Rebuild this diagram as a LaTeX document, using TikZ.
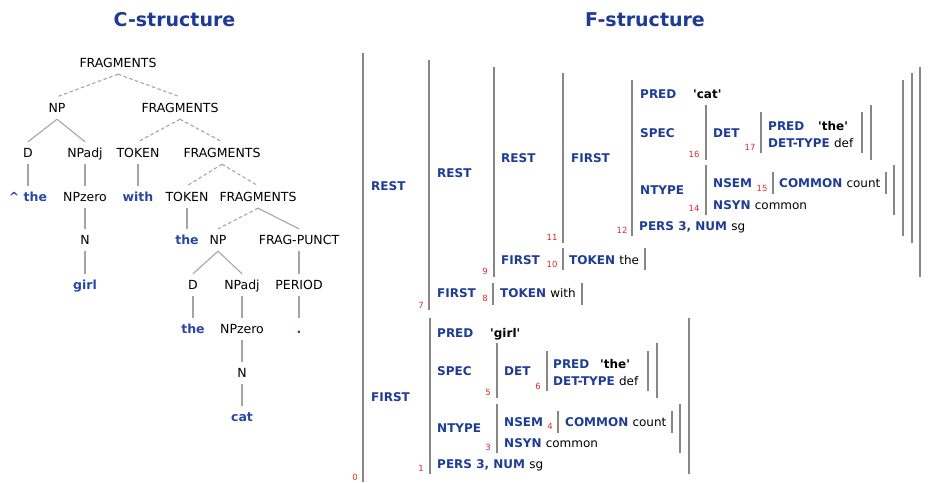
\documentclass[tikz,border=0pt]{standalone}
\usepackage{fontspec}
\setmainfont{DejaVu Sans}
\definecolor{titleblue}{RGB}{28,58,150}
\definecolor{fsblue}{RGB}{30,60,150}
\definecolor{wordblue}{RGB}{40,72,165}
\definecolor{linegray}{RGB}{165,165,165}
\definecolor{bargray}{RGB}{135,135,135}
\definecolor{numred}{RGB}{230,40,40}
\begin{document}
\begin{tikzpicture}[x=1pt,y=-1pt,
  title/.style={font=\fontsize{19}{22}\selectfont\bfseries, text=titleblue, inner sep=0pt},
  tn/.style={font=\fontsize{12.5}{14}\selectfont, inner sep=0pt, minimum height=22pt, text height=9.1pt, text depth=0pt},
  tw/.style={tn, font=\fontsize{12.5}{14}\selectfont\bfseries, text=wordblue},
  sol/.style={draw=linegray, line width=1.1pt},
  dsh/.style={draw=linegray, line width=1.1pt, dash pattern=on 3.5pt off 2.5pt},
  fl/.style={font=\fontsize{12}{14}\selectfont\bfseries, text=fsblue, anchor=west, inner sep=0pt, text height=8.7pt, text depth=0pt},
  fv/.style={font=\fontsize{12}{14}\selectfont\bfseries, text=black, anchor=west, inner sep=0pt, text height=8.7pt, text depth=0pt},
  nm/.style={font=\fontsize{8.5}{9}\selectfont, text=numred, inner sep=0pt},
  fbar/.style={draw=bargray, line width=1.8pt}
]
\useasboundingbox (0,0) rectangle (928,482);
\newcommand{\vl}[1]{\textcolor{black}{\mdseries #1}}
\newcommand{\sq}{\textquotesingle}

% titles
\node[title] (ct) at (174.5,20) {C-structure};
\node[title] (ft) at (645,20) {F-structure};

% ---------------- C-structure tree ----------------
\node[tn] (r)   at (118,63)  {FRAGMENTS};
\node[tn] (np1) at (57,108)  {NP};
\node[tn] (f2)  at (180,108) {FRAGMENTS};
\node[tn] (d1)  at (28,153)  {D};
\node[tn] (na1) at (85,153)  {NPadj};
\node[tn] (tk1) at (138,153) {TOKEN};
\node[tn] (f3)  at (222,153) {FRAGMENTS};
\node[tw] (w1)  at (28,197)  {\textasciicircum{} the};
\node[tn] (nz1) at (85,197)  {NPzero};
\node[tw] (w2)  at (138,197) {with};
\node[tn] (tk2) at (187,197) {TOKEN};
\node[tn] (f4)  at (258,197) {FRAGMENTS};
\node[tn] (n1)  at (85,240)  {N};
\node[tw] (w3)  at (187,240) {the};
\node[tn] (np2) at (218,240) {NP};
\node[tn] (fp)  at (299,240) {FRAG-PUNCT};
\node[tw] (w4)  at (85,285)  {girl};
\node[tn] (d2)  at (193,285) {D};
\node[tn] (na2) at (242,285) {NPadj};
\node[tn] (pe)  at (299,285) {PERIOD};
\node[tw] (w5)  at (193,329) {the};
\node[tn] (nz2) at (242,329) {NPzero};
\node[tw] (w6)  at (299,329) {.};
\node[tn] (n2)  at (242,373) {N};
\node[tw] (w7)  at (242,417) {cat};

\draw[dsh] (r.south) -- (np1.north);
\draw[dsh] (r.south) -- (f2.north);
\draw[sol] (np1.south) -- (d1.north);
\draw[sol] (np1.south) -- (na1.north);
\draw[dsh] (f2.south) -- (tk1.north);
\draw[dsh] (f2.south) -- (f3.north);
\draw[sol] (d1.south) -- (w1.north);
\draw[sol] (na1.south) -- (nz1.north);
\draw[sol] (tk1.south) -- (w2.north);
\draw[dsh] (f3.south) -- (tk2.north);
\draw[dsh] (f3.south) -- (f4.north);
\draw[sol] (nz1.south) -- (n1.north);
\draw[sol] (tk2.south) -- (w3.north);
\draw[dsh] (f4.south) -- (np2.north);
\draw[sol] (f4.south) -- (fp.north);
\draw[sol] (n1.south) -- (w4.north);
\draw[sol] (np2.south) -- (d2.north);
\draw[sol] (np2.south) -- (na2.north);
\draw[sol] (fp.south) -- (pe.north);
\draw[sol] (d2.south) -- (w5.north);
\draw[sol] (na2.south) -- (nz2.north);
\draw[sol] (pe.south) -- (w6.north);
\draw[sol] (nz2.south) -- (n2.north);
\draw[sol] (n2.south) -- (w7.north);

% ---------------- F-structure ----------------
% brackets
\draw[fbar] (363,53) -- (363,482);          % 0
\draw[fbar] (429,60) -- (429,310);          % 7
\draw[fbar] (494,67) -- (494,277);          % 9
\draw[fbar] (920,67) -- (920,277);
\draw[fbar] (563,73) -- (563,243);          % 11
\draw[fbar] (912,73) -- (912,243);
\draw[fbar] (632,80) -- (632,236);          % 12
\draw[fbar] (903,80) -- (903,236);
\draw[fbar] (706,105) -- (706,160);         % 16
\draw[fbar] (871,105) -- (871,160);
\draw[fbar] (761,112) -- (761,153);         % 17
\draw[fbar] (862,112) -- (862,153);
\draw[fbar] (706,165) -- (706,215);         % 14
\draw[fbar] (894,165) -- (894,215);
\draw[fbar] (773,172) -- (773,194);         % 15
\draw[fbar] (886,172) -- (886,194);
\draw[fbar] (563,248) -- (563,270);         % 10
\draw[fbar] (645,248) -- (645,270);
\draw[fbar] (493,283) -- (493,305);         % 8
\draw[fbar] (582,283) -- (582,305);
\draw[fbar] (430,318) -- (430,474);         % 1
\draw[fbar] (689,318) -- (689,474);
\draw[fbar] (497,343) -- (497,398);         % 5
\draw[fbar] (657,343) -- (657,398);
\draw[fbar] (547,351) -- (547,391);         % 6
\draw[fbar] (648,351) -- (648,391);
\draw[fbar] (497,404) -- (497,453);         % 3
\draw[fbar] (680,404) -- (680,453);
\draw[fbar] (558,411) -- (558,433);         % 4
\draw[fbar] (672,411) -- (672,433);

% attribute labels
\node[fl] (a1) at (371,186) {REST};
\node[fl] (a2) at (437,173) {REST};
\node[fl] (a3) at (501,158) {REST};
\node[fl] (a4) at (571,158) {FIRST};
\node[fl] (a5) at (640,94)  {PRED};
\node[fv] (v5) at (693,94)  {\sq cat\sq};
\node[fl] (a6) at (640,133) {SPEC};
\node[fl] (a7) at (713,133) {DET};
\node[fl] (a8) at (768,126) {PRED};
\node[fv] (v8) at (818,126) {\sq the\sq};
\node[fl] (a9) at (768,143) {DET-TYPE \vl{def}};
\node[fl] (a10) at (640,190) {NTYPE};
\node[fl] (a11) at (713,183) {NSEM};
\node[fl] (a12) at (779,183) {COMMON \vl{count}};
\node[fl] (a13) at (713,205) {NSYN \vl{common}};
\node[fl] (a14) at (639,226) {PERS 3, NUM \vl{sg}};
\node[fl] (a15) at (501,260) {FIRST};
\node[fl] (a16) at (569,260) {TOKEN \vl{the}};
\node[fl] (a17) at (437,293) {FIRST};
\node[fl] (a18) at (500,293) {TOKEN \vl{with}};
\node[fl] (a19) at (371,397) {FIRST};
\node[fl] (a20) at (437,333) {PRED};
\node[fv] (v20) at (490,333) {\sq girl\sq};
\node[fl] (a21) at (437,371) {SPEC};
\node[fl] (a22) at (504,371) {DET};
\node[fl] (a23) at (553,364) {PRED};
\node[fv] (v23) at (600,364) {\sq the\sq};
\node[fl] (a24) at (553,381) {DET-TYPE \vl{def}};
\node[fl] (a25) at (437,428) {NTYPE};
\node[fl] (a26) at (504,422) {NSEM};
\node[fl] (a27) at (565,422) {COMMON \vl{count}};
\node[fl] (a28) at (504,443) {NSYN \vl{common}};
\node[fl] (a29) at (437,464) {PERS 3, NUM \vl{sg}};

% index numbers
\node[nm] (i0)  at (355,477) {0};
\node[nm] (i1)  at (421,468) {1};
\node[nm] (i3)  at (488,447) {3};
\node[nm] (i4)  at (550,426) {4};
\node[nm] (i5)  at (488,392) {5};
\node[nm] (i6)  at (538,386) {6};
\node[nm] (i7)  at (421,305) {7};
\node[nm] (i8)  at (485,298) {8};
\node[nm] (i9)  at (485,271) {9};
\node[nm] (i10) at (552,264) {10};
\node[nm] (i11) at (552,237) {11};
\node[nm] (i12) at (622,230) {12};
\node[nm] (i14) at (694,208) {14};
\node[nm] (i15) at (762,188) {15};
\node[nm] (i16) at (694,154) {16};
\node[nm] (i17) at (750,147) {17};
\end{tikzpicture}
\end{document}
